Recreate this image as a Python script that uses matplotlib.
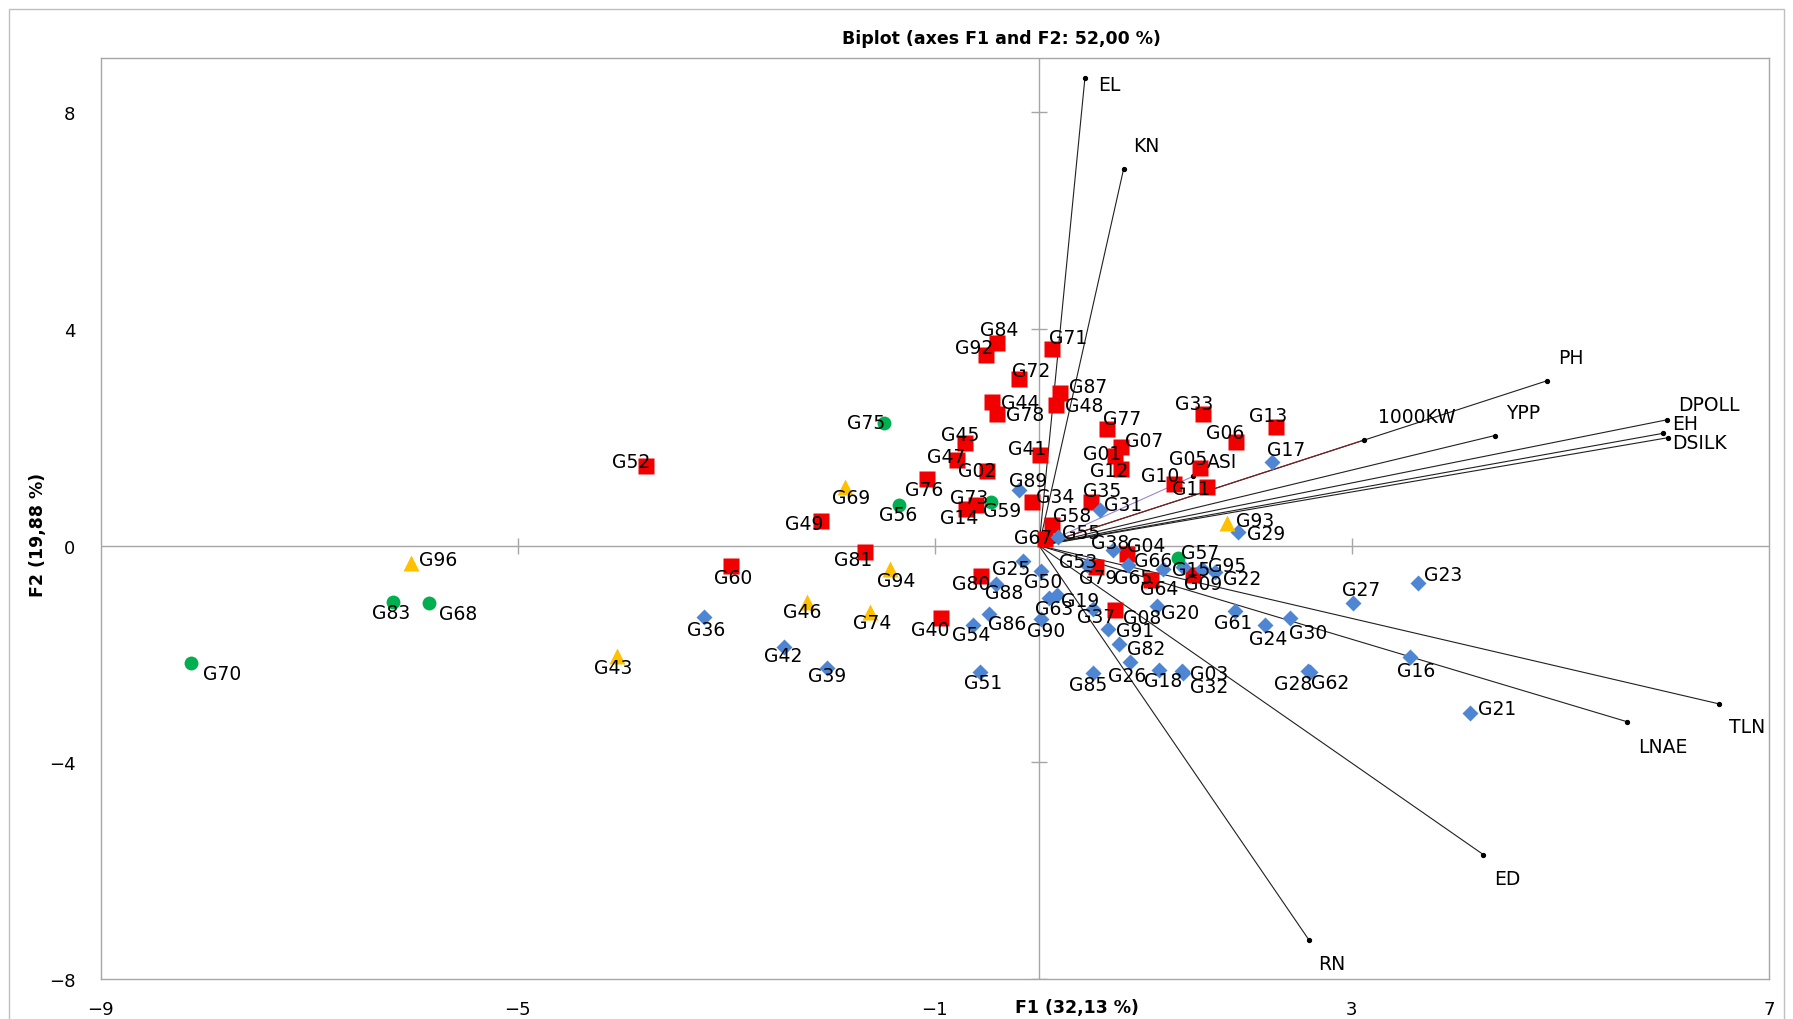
import matplotlib
matplotlib.use('Agg')
import matplotlib.pyplot as plt
from matplotlib.patches import Rectangle

# --- observations (F1, F2 scores) by cluster ---
red_names = ['G84', 'G92', 'G71', 'G72', 'G87', 'G48', 'G44', 'G78', 'G77', 'G45',
             'G47', 'G41', 'G07', 'G01', 'G12', 'G02', 'G76', 'G73', 'G14', 'G34',
             'G35', 'G58', 'G67', 'G04', 'G79', 'G64', 'G09', 'G33', 'G13', 'G06',
             'G05', 'G10', 'G11', 'G80', 'G40', 'G08', 'G52', 'G49', 'G81', 'G60']
red_f1 = [-0.40, -0.51, 0.12, -0.19, 0.20, 0.16, -0.45, -0.40, 0.65, -0.71,
          -0.79, 0.01, 0.79, 0.73, 0.79, -0.50, -1.07, -0.60, -0.70, -0.07,
          0.50, 0.12, 0.06, 0.84, 0.55, 1.07, 1.48, 1.57, 2.27, 1.89,
          1.54, 1.29, 1.61, -0.56, -0.94, 0.73, -3.77, -2.09, -1.67, -2.95]
red_f2 = [3.74, 3.52, 3.63, 3.07, 2.81, 2.59, 2.64, 2.43, 2.15, 1.89,
          1.58, 1.67, 1.81, 1.66, 1.41, 1.38, 1.23, 0.75, 0.68, 0.81,
          0.81, 0.38, 0.12, -0.15, -0.40, -0.63, -0.54, 2.43, 2.18, 1.92,
          1.43, 1.14, 1.09, -0.56, -1.34, -1.19, 1.46, 0.46, -0.12, -0.38]

blue_names = ['G89', 'G31', 'G55', 'G38', 'G17', 'G29', 'G53', 'G65', 'G66', 'G15',
              'G95', 'G22', 'G25', 'G50', 'G88', 'G19', 'G63', 'G90', 'G86', 'G54',
              'G51', 'G37', 'G91', 'G82', 'G20', 'G85', 'G26', 'G18', 'G03', 'G32',
              'G61', 'G24', 'G30', 'G27', 'G23', 'G16', 'G21', 'G28', 'G62', 'G36',
              'G42', 'G39']
blue_f1 = [-0.19, 0.58, 0.18, 0.71, 2.23, 1.91, 0.46, 0.85, 1.19, 1.38,
           1.56, 1.69, -0.15, 0.02, -0.41, 0.17, 0.10, 0.02, -0.48, -0.63,
           -0.57, 0.52, 0.66, 0.77, 1.13, 0.52, 0.87, 1.15, 1.37, 1.38,
           1.88, 2.17, 2.41, 3.01, 3.63, 3.56, 4.13, 2.58, 2.60, -3.21,
           -2.45, -2.03]
blue_f2 = [1.03, 0.66, 0.15, -0.09, 1.54, 0.25, -0.36, -0.36, -0.43, -0.40,
           -0.43, -0.49, -0.28, -0.47, -0.71, -0.91, -0.97, -1.35, -1.26, -1.46,
           -2.33, -1.17, -1.54, -1.82, -1.11, -2.35, -2.15, -2.29, -2.31, -2.35,
           -1.20, -1.47, -1.34, -1.06, -0.69, -2.06, -3.09, -2.31, -2.33, -1.32,
           -1.87, -2.25]

green_names = ['G75', 'G56', 'G59', 'G57', 'G83', 'G68', 'G70']
green_f1 = [-1.49, -1.34, -0.46, 1.33, -6.20, -5.85, -8.13]
green_f2 = [2.26, 0.75, 0.80, -0.22, -1.04, -1.05, -2.17]

yellow_names = ['G69', 'G93', 'G96', 'G94', 'G46', 'G74', 'G43']
yellow_f1 = [-1.86, 1.80, -6.02, -1.43, -2.23, -1.62, -4.05]
yellow_f2 = [1.09, 0.42, -0.33, -0.43, -1.04, -1.22, -2.04]

# --- variables (loadings scaled to the score space) ---
var_names = ['EL', 'KN', 'PH', '1000KW', 'YPP', 'DPOLL', 'EH', 'DSILK',
             'TLN', 'LNAE', 'ED', 'RN', 'ASI']
var_f1 = [0.44, 0.81, 4.87, 3.12, 4.37, 6.02, 5.98, 6.03, 6.52, 5.64, 4.26, 2.59, 1.48]
var_f2 = [8.63, 6.94, 3.04, 1.95, 2.03, 2.32, 2.07, 1.99, -2.92, -3.25, -5.70, -7.28, 1.28]

x_ticks = [-9, -5, -1, 3, 7]
y_ticks = [-8, -4, 0, 4, 8]

# label nudges in pixels (right, down)
obs_offsets = {
    'G84': (2, -13), 'G92': (-12, -7), 'G71': (17, -11), 'G72': (12, -9), 'G87': (28, -7),
    'G48': (28, 0), 'G44': (28, 0), 'G78': (28, 1), 'G45': (-5, -9), 'G47': (-10, -3),
    'G02': (-10, 0), 'G41': (-13, -7), 'G77': (15, -11), 'G07': (23, -7), 'G01': (-13, -2),
    'G12': (-12, 1), 'G33': (-9, -10), 'G13': (-8, -12), 'G06': (-11, -9), 'G05': (-12, -10),
    'G10': (-13, -8), 'G11': (-16, 2), 'G17': (15, -13), 'G93': (28, -2), 'G29': (28, 1),
    'G31': (24, -5), 'G35': (11, -11), 'G89': (9, -9), 'G34': (23, -5), 'G76': (-3, 11),
    'G73': (-7, -7), 'G14': (-7, 9), 'G59': (11, 8), 'G56': (-1, 10), 'G75': (-18, -1),
    'G58': (21, -9), 'G67': (-12, -2), 'G55': (23, -5), 'G38': (-3, -8), 'G04': (20, -8),
    'G53': (-9, -4), 'G79': (2, 10), 'G65': (5, 12), 'G66': (-10, -8), 'G64': (9, 9),
    'G57': (22, -5), 'G15': (8, 2), 'G09': (10, 9), 'G95': (25, -3), 'G22': (27, 6),
    'G25': (-12, 8), 'G50': (2, 10), 'G88': (8, 8), 'G80': (-10, 8), 'G19': (23, 6),
    'G63': (5, 10), 'G37': (3, 7), 'G08': (27, 7), 'G20': (23, 7), 'G91': (27, 1),
    'G82': (27, 4), 'G86': (18, 10), 'G90': (5, 12), 'G54': (-2, 10), 'G40': (-11, 11),
    'G51': (4, 11), 'G85': (-5, 12), 'G26': (-3, 13), 'G18': (4, 11), 'G03': (27, 3),
    'G32': (26, 14), 'G61': (-2, 12), 'G24': (3, 13), 'G30': (18, 14), 'G27': (8, -14),
    'G23': (26, -8), 'G16': (6, 13), 'G21': (27, -5), 'G28': (-15, 13), 'G62': (20, 11),
    'G52': (-15, -5), 'G69': (6, 11), 'G49': (-17, 3), 'G81': (-12, 7), 'G96': (27, -4),
    'G60': (2, 11), 'G94': (6, 12), 'G83': (-1, 11), 'G68': (29, 11), 'G46': (-4, 10),
    'G74': (2, 11), 'G36': (2, 12), 'G42': (0, 9), 'G43': (-4, 11), 'G70': (31, 10),
    'G39': (0, 8),
}
var_offsets = {
    'EL': (24, 7), 'KN': (23, -24), 'PH': (24, -23), '1000KW': (52, -23), 'YPP': (28, -23),
    'DPOLL': (42, -15), 'EH': (23, -10), 'DSILK': (32, 5), 'TLN': (28, 23),
    'LNAE': (36, 25), 'ED': (24, 24), 'RN': (23, 23), 'ASI': (29, -15),
}
var_colors = {'1000KW': '#7f1f1f', 'ASI': '#9a86cf'}

grid_grey = '#a6a6a6'
label_size = 13.5

fig = plt.figure(figsize=(17.93, 10.20), dpi=100)
ax = fig.add_axes([0.0561, 0.039, 0.9305, 0.9034])
ax.set_xlim(-9, 7)
ax.set_ylim(-8, 9)

for s in ax.spines.values():
    s.set_color(grid_grey)
    s.set_linewidth(1)

ax.set_xticks(x_ticks)
ax.set_yticks(y_ticks)
ax.tick_params(axis='x', length=0, pad=15, labelsize=13)
ax.tick_params(axis='y', length=0, pad=18, labelsize=13)

# axes through the origin with cross tick marks
ax.axhline(0, color=grid_grey, lw=1, zorder=1)
ax.axvline(0, color=grid_grey, lw=1, zorder=1)
ax.plot(x_ticks[1:-1], [0] * 3, ls='none', marker='|', ms=11, mew=1, color=grid_grey, zorder=1)
ax.plot([0] * 4, [t for t in y_ticks if t != 0], ls='none', marker='_', ms=11, mew=1,
        color=grid_grey, zorder=1)

# variable vectors
for name, x, y in zip(var_names, var_f1, var_f2):
    c = var_colors.get(name, '#202020')
    ax.plot([0, x], [0, y], color=c, lw=0.8, zorder=2)
for name, x, y in zip(var_names, var_f1, var_f2):
    ax.plot(x, y, 'o', ms=2.8, color='black', zorder=2.5)
    dx, dy = var_offsets[name]
    ax.annotate(name, (x, y), xytext=(dx, -dy), textcoords='offset pixels',
                ha='center', va='center', fontsize=label_size, zorder=6)

# observations
groups = [
    (red_names, red_f1, red_f2, 's', 11.5, '#f20000'),
    (blue_names, blue_f1, blue_f2, 'D', 8.5, '#4f86d4'),
    (green_names, green_f1, green_f2, 'o', 10, '#00b050'),
    (yellow_names, yellow_f1, yellow_f2, '^', 11, '#ffc000'),
]
for names, xs, ys, mk, ms, col in groups:
    ax.plot(xs, ys, ls='none', marker=mk, ms=ms, color=col, mec='none', zorder=3)
for names, xs, ys, mk, ms, col in groups:
    for name, x, y in zip(names, xs, ys):
        dx, dy = obs_offsets.get(name, (0, 12))
        ax.annotate(name, (x, y), xytext=(dx, -dy), textcoords='offset pixels',
                    ha='center', va='center', fontsize=label_size, zorder=6)

fig.text(0.5588, 0.9618, 'Biplot (axes F1 and F2: 52,00 %)', ha='center', va='center',
         fontsize=12.5, fontweight='bold')
fig.text(0.6007, 0.0118, 'F1 (32,13 %)', ha='center', va='center',
         fontsize=12.5, fontweight='bold')
fig.text(0.0212, 0.4755, 'F2 (19,88 %)', ha='center', va='center', rotation=90,
         fontsize=12.5, fontweight='bold')

# chart frame
fig.patches.append(Rectangle((0.005, -0.01), 0.99, 1.0, transform=fig.transFigure,
                             fill=False, edgecolor='#bfbfbf', lw=1))

fig.savefig('out.png', dpi=100)
